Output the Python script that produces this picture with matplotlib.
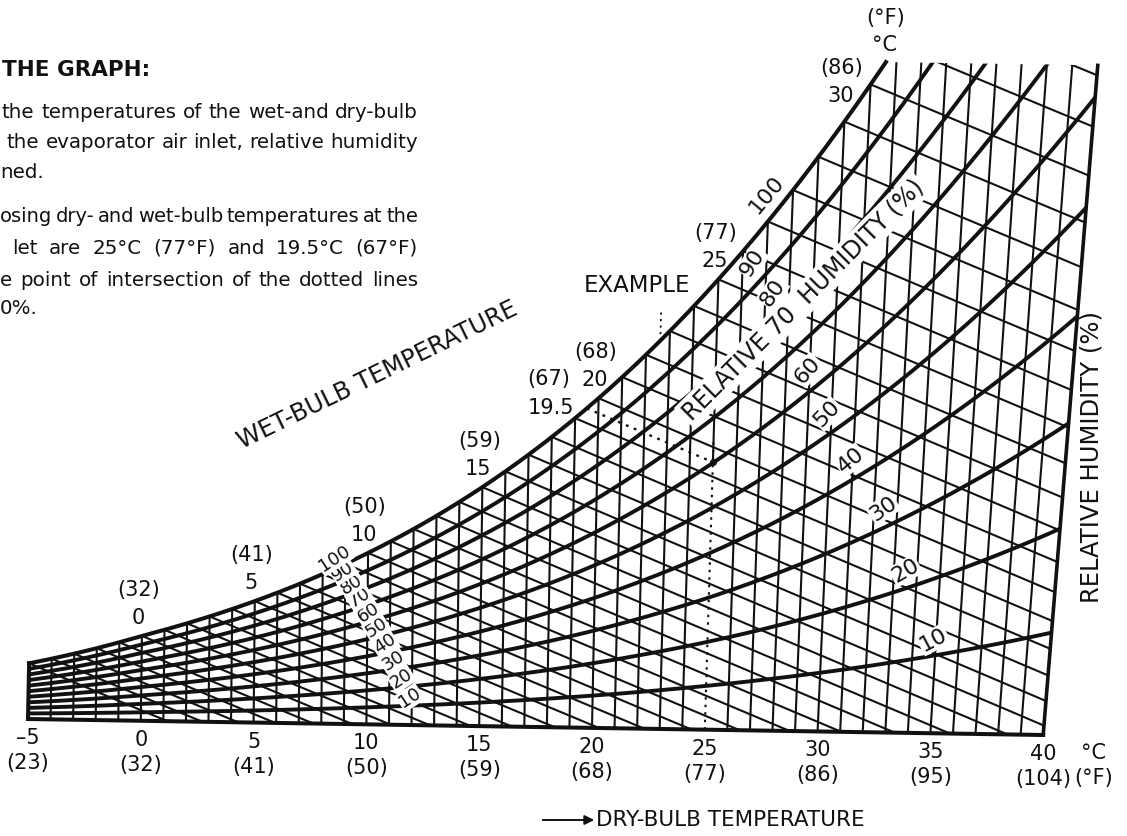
import numpy as np
import matplotlib
matplotlib.use("Agg")
import matplotlib.pyplot as plt
from matplotlib.patches import Polygon

# dry-bulb scale (deg C) and the Fahrenheit values printed under it
db_ticks = [-5, 0, 5, 10, 15, 20, 25, 30, 35, 40]
db_ticks_f = ["(23)", "(32)", "(41)", "(50)", "(59)", "(68)", "(77)", "(86)", "(95)", "(104)"]
# wet-bulb values printed along the saturation curve
wb_ticks = [0, 5, 10, 15, 20, 25, 30]
wb_ticks_f = ["(32)", "(41)", "(50)", "(59)", "(68)", "(77)", "(86)"]
# relative humidity curves (%)
rh_levels = [10, 20, 30, 40, 50, 60, 70, 80, 90]
# worked example: dry bulb 25 C, wet bulb 19.5 C (67 F)
ex_db = 25.0
ex_wb = 19.5
ex_wb_f = "(67)"

P = 101.325     # kPa
W_TOP = 29.8    # g/kg, top edge of the chart


def p_sat(t):
    t = np.asarray(t, float)
    water = 0.6112 * np.exp(17.62 * t / (243.12 + t))
    ice = 0.6112 * np.exp(22.46 * t / (272.62 + t))
    return np.where(t < 0, ice, water)


def w_rh(t, rh):
    pv = rh / 100.0 * p_sat(t)
    return 622.0 * pv / (P - pv)


def w_sat(t):
    return w_rh(t, 100.0)


def w_wetbulb(t, twb):
    ws = w_sat(twb) / 1000.0
    w = ((2501 - 2.326 * twb) * ws - 1.006 * (t - twb)) / (2501 + 1.86 * t - 4.186 * twb)
    return w * 1000.0


def lean(t):
    # dry-bulb lines lean a bit more to the right at high temperature
    u = np.asarray(t, float) + 5
    return 0.02 - 0.0017 * u + 6.8e-5 * u ** 2


def proj(t, w):
    t = np.asarray(t, float)
    w = np.asarray(w, float)
    x = t + lean(t) * w
    y = w - 0.0158 * (x + 5)
    return x, y


def fpx(x, y):
    return x / 1127.0, 1 - y / 836.0


plt.rcParams["font.family"] = ["DejaVu Sans"]
ink = "#111111"
thin = 1.5
thick = 2.8

fig = plt.figure(figsize=(11.27, 8.36), dpi=100)
ax = fig.add_axes([0, 0, 1, 1])
ax.set_xlim(-6.241, 43.715)
ax.set_ylim(-5.2, 31.956)
ax.axis("off")

tgrid = np.linspace(-5, 45, 5001)
t_top = float(np.interp(W_TOP, w_sat(tgrid), tgrid))
ts = np.linspace(-5, t_top, 400)

# chart outline used as clip path
ob_t = np.concatenate([np.linspace(-5, 40, 100), np.full(50, 40.0),
                       np.linspace(40, t_top, 50), ts[::-1], [-5.0]])
ob_w = np.concatenate([np.zeros(100), np.linspace(0, W_TOP, 50),
                       np.full(50, W_TOP), w_sat(ts[::-1]), [0.0]])
ox, oy = proj(ob_t, ob_w)
clip = Polygon(np.column_stack([ox, oy]), closed=True, transform=ax.transData,
               fill=False, lw=0)
ax.add_patch(clip)

w_ex = float(w_wetbulb(ex_db, ex_wb))

# dry-bulb lines, 1 C apart
for t in np.arange(-5, 41):
    top = min(float(w_sat(t)), W_TOP)
    lo = w_ex if t == ex_db else 0.0
    x, y = proj([t, t], [lo, top])
    ax.plot(x, y, color=ink, lw=thin, solid_capstyle="butt")

# wet-bulb lines, 1 C apart
for tw in np.arange(-5, 37):
    tt = np.linspace(tw, 46, 300)
    ww = w_wetbulb(tt, tw)
    keep = ww > -0.5
    x, y = proj(tt[keep], ww[keep])
    ln, = ax.plot(x, y, color=ink, lw=thin)
    ln.set_clip_path(clip)

# relative humidity curves
tr = np.linspace(-5, 40, 500)
for rh in rh_levels:
    x, y = proj(tr, w_rh(tr, rh))
    ln, = ax.plot(x, y, color=ink, lw=thick)
    ln.set_clip_path(clip)

# saturation curve and frame
ax.plot(*proj(ts, w_sat(ts)), color=ink, lw=2.9)
ax.plot(*proj(np.linspace(-5, 40, 50), np.zeros(50)), color=ink, lw=2.9)
ax.plot(*proj([-5, -5], [0, float(w_sat(-5))]), color=ink, lw=2.9)
ax.plot(*proj([40, 40], [0, W_TOP]), color=ink, lw=2.6)

# worked example
dot = (0, (1.2, 2.4))
ax.plot(*proj([ex_db, ex_db], [0, w_ex + 1.0]), color=ink, lw=1.5, ls=dot)
te = np.linspace(ex_wb, ex_db, 60)
ax.plot(*proj(te, w_wetbulb(te, ex_wb)), color=ink, lw=1.7, ls=dot)
ax.plot(*proj(ex_db, w_ex), "o", ms=4, color=ink)
ax.plot(*proj([22.6, 22.6], [float(w_sat(22.6)), float(w_sat(22.6)) + 1.4]),
        color=ink, lw=1.3, ls=dot)

# dry-bulb scale
for t, tf in zip(db_ticks, db_ticks_f):
    lab = "\u2013" + str(-t) if t < 0 else str(t)
    ax.annotate(lab, xy=proj(t, 0), xytext=(0, -19), textcoords="offset pixels",
                ha="center", va="center", fontsize=15, color=ink)
    ax.annotate(tf, xy=proj(t, 0), xytext=(0, -44), textcoords="offset pixels",
                ha="center", va="center", fontsize=15, color=ink)
ax.annotate("\u00b0C", xy=proj(40, 0), xytext=(50, -18), textcoords="offset pixels",
            ha="center", va="center", fontsize=15, color=ink)
ax.annotate("(\u00b0F)", xy=proj(40, 0), xytext=(50, -43), textcoords="offset pixels",
            ha="center", va="center", fontsize=15, color=ink)

# wet-bulb values on the saturation curve
for t, tf in zip(wb_ticks, wb_ticks_f):
    p = proj(t, w_sat(t))
    up = 8 if t == 30 else 0
    ax.annotate(str(t), xy=p, xytext=(-4, 18 + up), textcoords="offset pixels",
                ha="center", va="center", fontsize=15, color=ink)
    ax.annotate(tf, xy=p, xytext=(-3, 46 + up), textcoords="offset pixels",
                ha="center", va="center", fontsize=15, color=ink)
p = proj(ex_wb, w_sat(ex_wb))
ax.annotate(str(ex_wb), xy=p, xytext=(-36, 0), textcoords="offset pixels",
            ha="center", va="center", fontsize=15, color=ink)
ax.annotate(ex_wb_f, xy=p, xytext=(-38, 29), textcoords="offset pixels",
            ha="center", va="center", fontsize=15, color=ink)
ax.annotate("EXAMPLE", xy=proj(23, w_sat(23)), xytext=(-33, 46), textcoords="offset pixels",
            ha="center", va="center", fontsize=16.5, color=ink)

# RH labels, small group near 10 C
box = dict(facecolor="white", edgecolor="none", pad=0.6)
for rh in rh_levels + [100]:
    t = 12.1 - (rh - 10) / 90.0 * 3.4
    ax.annotate(str(rh), xy=proj(t, w_rh(t, rh)), xytext=(-4, 8), textcoords="offset pixels",
                ha="center", va="center", fontsize=13, rotation=33, color=ink,
                bbox=box, zorder=5)

# RH labels, large group on the right
right_t = {10: 35.4, 20: 34.0, 30: 32.9, 40: 31.4, 50: 30.3, 60: 29.4, 80: 27.8, 90: 26.9, 100: 27.4}
right_rot = {10: 28, 20: 30, 30: 35, 40: 40, 50: 46, 60: 48, 80: 55, 90: 57, 100: 50}
for rh, t in right_t.items():
    ax.annotate(str(rh), xy=proj(t, w_rh(t, rh)), xytext=(-11, 14), textcoords="offset pixels",
                ha="center", va="center", fontsize=16, rotation=right_rot[rh], color=ink,
                bbox=box, zorder=5)

fig.text(*fpx(803, 300), "RELATIVE 70  HUMIDITY (%)", rotation=45, fontsize=17,
         ha="center", va="center", color=ink, zorder=6,
         bbox=dict(facecolor="white", edgecolor="none", pad=2))
fig.text(*fpx(377, 375), "WET-BULB TEMPERATURE", rotation=26, fontsize=17.5,
         ha="center", va="center", color=ink)
fig.text(*fpx(1092, 457), "RELATIVE HUMIDITY (%)", rotation=90, fontsize=17.5,
         ha="center", va="center", color=ink)
fig.text(*fpx(886, 18), "(\u00b0F)", fontsize=15, ha="center", va="center", color=ink)
fig.text(*fpx(885, 45), "\u00b0C", fontsize=15, ha="center", va="center", color=ink)
fig.text(*fpx(596, 820), "DRY-BULB TEMPERATURE", fontsize=15.5, ha="left", va="center", color=ink)
ax.annotate("", xy=fpx(597, 820), xytext=fpx(540, 820), xycoords="figure fraction",
            textcoords="figure fraction",
            arrowprops=dict(arrowstyle="-|>", lw=1.4, color=ink, mutation_scale=14))

# explanation text (cut off at the left edge of the page), justified lines
renderer = fig.canvas.get_renderer()


def justify(line, x0, x1, y, size):
    words = line.split(" ")
    while True:
        texts = [fig.text(0, fpx(0, y)[1], w, fontsize=size, ha="left", va="center", color=ink)
                 for w in words]
        widths = [t.get_window_extent(renderer).width for t in texts]
        gap = (x1 - x0 - sum(widths)) / (len(words) - 1)
        if gap >= 3.5 or size < 10:
            break
        for t in texts:
            t.remove()
        size -= 0.1
    x = x0
    for t, w in zip(texts, widths):
        t.set_x(x / 1127.0)
        x += w + gap


fig.text(*fpx(2, 70), "THE GRAPH:", fontsize=15.5, fontweight="bold", ha="left", va="center", color=ink)
justify("the temperatures of the wet-and dry-bulb", 2, 418, 112, 14.3)
justify("the evaporator air inlet, relative humidity", 7, 418, 143, 14.3)
fig.text(*fpx(0, 173), "ned.", fontsize=14.3, ha="left", va="center", color=ink)
justify("osing dry- and wet-bulb temperatures at the", 0, 418, 217, 14.3)
justify("let are 25\u00b0C (77\u00b0F) and 19.5\u00b0C (67\u00b0F)", 12, 418, 248, 14.3)
justify("e point of intersection of the dotted lines", 0, 418, 280, 14.3)
fig.text(*fpx(0, 308), "0%.", fontsize=14.3, ha="left", va="center", color=ink)

fig.savefig("out.png", dpi=100, facecolor="white")
